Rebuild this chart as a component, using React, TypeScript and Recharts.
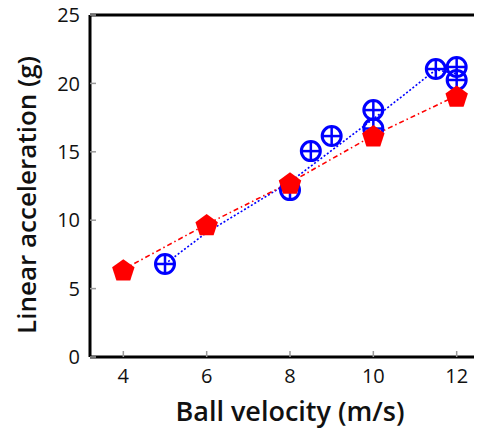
import React from 'react';
import { ComposedChart, Scatter, XAxis, YAxis, ReferenceLine } from 'recharts';

// Blue series: measured points (circle with plus)
const blueX = [5, 8, 8.5, 9, 10, 10, 11.5, 12, 12];
const blueY = [6.8, 12.2, 15.05, 16.15, 18.05, 16.7, 21.05, 21.2, 20.25];
// Blue dotted trend line
const blueLineX = [5, 6, 8, 10, 11.5, 12];
const blueLineY = [6.8, 9.1, 12.8, 17.4, 21.0, 20.7];
// Red series: pentagons connected by dash-dot line
const redX = [4, 6, 8, 10, 12];
const redY = [6.4, 9.7, 12.75, 16.2, 19.1];

const xTicks = [4, 6, 8, 10, 12];
const yTicks = [0, 5, 10, 15, 20, 25];

const blueData = blueX.map((x, i) => ({ x, y: blueY[i] }));
const blueLineData = blueLineX.map((x, i) => ({ x, y: blueLineY[i] }));
const redData = redX.map((x, i) => ({ x, y: redY[i] }));

const FONT = '"Open Sans", "Noto Sans", sans-serif';

const CirclePlus = (props: any) => {
  const { cx, cy } = props;
  if (cx == null || cy == null) return <g />;
  const r = 9.5;
  return (
    <g>
      <circle cx={cx} cy={cy} r={r} fill="none" stroke="#0000ff" strokeWidth={3} />
      <line x1={cx - r} y1={cy} x2={cx + r} y2={cy} stroke="#0000ff" strokeWidth={2.5} />
      <line x1={cx} y1={cy - r} x2={cx} y2={cy + r} stroke="#0000ff" strokeWidth={2.5} />
    </g>
  );
};

const Pentagon = (props: any) => {
  const { cx, cy } = props;
  if (cx == null || cy == null) return <g />;
  const R = 11.8;
  const pts: string[] = [];
  for (let k = 0; k < 5; k++) {
    const a = -Math.PI / 2 + (k * 2 * Math.PI) / 5;
    pts.push(`${cx + R * Math.cos(a)},${cy + R * Math.sin(a) + 1.5}`);
  }
  return <polygon points={pts.join(' ')} fill="#ff0000" stroke="none" />;
};

const Empty = () => <g />;

const YTitle = (props: any) => {
  const { viewBox } = props;
  const cy = viewBox.y + viewBox.height / 2 + 9;
  const cx = 18;
  return (
    <text
      x={cx}
      y={cy}
      transform={`rotate(-90, ${cx}, ${cy})`}
      textAnchor="middle"
      dominantBaseline="central"
      fontFamily={FONT}
      fontWeight={600}
      fontSize={26}
      fill="#111"
    >
      Linear acceleration (g)
    </text>
  );
};

const XTitle = (props: any) => {
  const { viewBox } = props;
  const cx = viewBox.x + viewBox.width / 2;
  return (
    <text
      x={cx}
      y={410}
      textAnchor="middle"
      dominantBaseline="central"
      fontFamily={FONT}
      fontWeight={600}
      fontSize={27}
      fill="#111"
    >
      Ball velocity (m/s)
    </text>
  );
};

export default function App() {
  return (
    <div style={{ width: 474, height: 429, overflow: 'hidden', marginTop: -8 }}>
      <ComposedChart
        width={490}
        height={429}
        margin={{ top: 15, right: 8, left: 0, bottom: 22 }}
      >
        <XAxis
          type="number"
          dataKey="x"
          domain={[3.2, 12.8]}
          ticks={xTicks}
          allowDataOverflow
          height={50}
          tickSize={-6}
          tickMargin={18}
          axisLine={{ stroke: '#000', strokeWidth: 3 }}
          tickLine={{ stroke: '#999', strokeWidth: 1.5 }}
          tick={{ fontFamily: FONT, fontSize: 20, fill: '#111' }}
          label={<XTitle />}
        />
        <YAxis
          type="number"
          dataKey="y"
          domain={[0, 25]}
          ticks={yTicks}
          width={82}
          tickSize={-6}
          tickMargin={16}
          axisLine={{ stroke: '#000', strokeWidth: 3 }}
          tickLine={{ stroke: '#999', strokeWidth: 1.5 }}
          tick={{ fontFamily: FONT, fontSize: 20, fill: '#111' }}
          label={<YTitle />}
        />
        <ReferenceLine y={25} stroke="#000" strokeWidth={3} />
        <Scatter
          data={blueLineData}
          shape={<Empty />}
          line={{ stroke: '#0000ff', strokeWidth: 1.6, strokeDasharray: '2 2' }}
          isAnimationActive={false}
        />
        <Scatter
          data={redData}
          shape={<Empty />}
          line={{ stroke: '#ff0000', strokeWidth: 1.6, strokeDasharray: '5 3 1.5 3' }}
          isAnimationActive={false}
        />
        <Scatter data={blueData} shape={<CirclePlus />} isAnimationActive={false} />
        <Scatter data={redData} shape={<Pentagon />} isAnimationActive={false} />
      </ComposedChart>
    </div>
  );
}
